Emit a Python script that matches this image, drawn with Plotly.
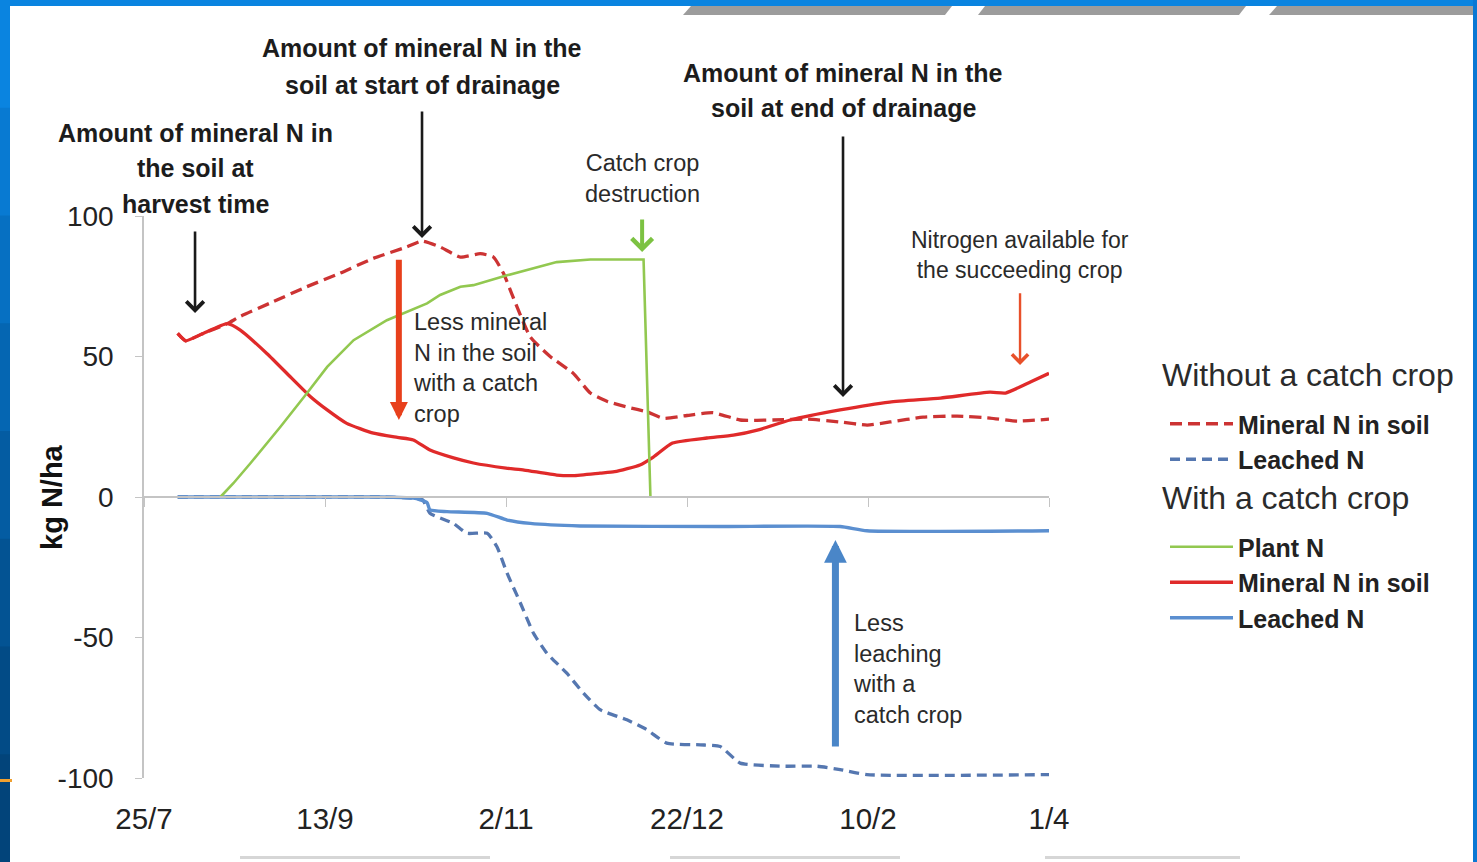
import plotly.graph_objects as go

# ---------------- data (x = days since 25 July) ----------------
TICK_DAYS = [0, 50, 100, 150, 200, 250]
TICK_LABELS = ["25/7", "13/9", "2/11", "22/12", "10/2", "1/4"]
Y_TICKS = [-100, -50, 0, 50, 100]
Y_TICK_LABELS = ["-100", "-50", "0", "50", "100"]

# Without a catch crop : mineral N in soil
noc_min_days = [9.3, 11.5, 16, 23, 26.5, 35.7, 44.9, 54.1, 63.3, 72.6, 76.8, 81.8, 87.4, 92.9,
                96.5, 99.3, 102, 106.7, 112.2, 118.6, 123.3, 128, 133.5, 139, 143.4, 150,
                157.2, 164.7, 173.8, 183.2, 192.3, 199.8, 206.1, 215.2, 224.6, 233.7, 241.2, 250]
noc_min_vals = [58.2, 55.6, 58, 61.7, 64.2, 69.5, 74.8, 79.6, 84.9, 89, 91.1, 89, 85.4, 86.6,
                85.4, 79.6, 71, 57, 50, 44, 37, 34, 32, 30.3, 28, 29,
                30, 27.4, 27.4, 27.7, 26.7, 25.6, 26.7, 28.4, 28.8, 28.1, 27, 27.7]

# Without a catch crop : leached N
noc_lea_days = [9.3, 65.3, 74.4, 77, 79, 85.5, 89.2, 94.8, 97.5, 100.3, 104, 107.6, 111.3,
                116.8, 121.4, 126, 133.4, 138.9, 144.4, 153.7, 159.2, 164.7, 176.6, 185.9,
                192.3, 199.7, 250]
noc_lea_vals = [0, 0, -0.4, -1, -5.8, -9.4, -12.9, -12.9, -17.7, -27.1, -37.8, -48.5, -55.6,
                -62.7, -69.8, -75.7, -79.3, -82.8, -87.6, -88.2, -88.8, -94.7, -95.8, -95.8,
                -97, -98.8, -98.8]

# With a catch crop : plant N
cc_plant_days = [21.1, 24.7, 29.4, 37.7, 45, 50.6, 57.9, 67.1, 78.2, 81.8, 87.4, 91, 100.3,
                 114, 123.3, 138, 139.9]
cc_plant_vals = [0, 4.9, 12, 25, 36.9, 46.3, 55.8, 62.9, 68.9, 71.9, 74.8, 75.4, 78.9,
                 83.6, 84.5, 84.5, 0]

# With a catch crop : mineral N in soil
cc_min_days = [9.3, 11.5, 16, 23, 26.6, 34, 40.4, 46, 50.6, 56, 63.4, 70, 74.4, 79, 85.5, 91,
               100, 105, 114, 118.6, 126, 130, 137, 140.7, 146, 155.5, 162.8, 170, 178.5,
               192.3, 206, 220, 233.7, 238, 245, 250]
cc_min_vals = [58.2, 55.6, 58, 61.7, 59.4, 51, 42.8, 35.7, 31, 26.2, 22.7, 21.2, 20.3, 16.7,
               13.9, 12.1, 10.3, 9.6, 7.8, 7.6, 8.5, 9, 11.4, 14.2, 19.2, 21, 22, 24, 27.4,
               31, 33.8, 35.2, 37.3, 37, 41, 44]

# With a catch crop : leached N
cc_lea_days = [9.3, 65.3, 74.4, 76.3, 78.2, 79, 83.7, 94.8, 100.3, 106.7, 120.5, 159.2, 192.3,
               199.7, 250]
cc_lea_vals = [0, 0, -0.4, -1, -2, -4.6, -5.2, -5.8, -8.2, -9.4, -10.3, -10.5, -10.5, -12, -12]

# ---------------- styling ----------------
FONT = "Liberation Sans, Arial, sans-serif"
RED = "#e02a2a"
RED_D = "#cc3333"
BLUE = "#5b8fd0"
BLUE_D = "#5577b0"
GREEN = "#92c850"
AXIS_GRAY = "#c4c4c4"

W, H = 1477, 862
ML, MR, MT, MB = 144, 428, 216, 84
PW, PH = W - ML - MR, H - MT - MB
XR = [0, 250]
YR = [-100, 100]


def px(x):  # page pixel -> paper x (layout placement only)
    return (x - ML) / PW


def py(y):  # page pixel -> paper y (layout placement only)
    return (H - MB - y) / PH


fig = go.Figure()

fig.add_trace(go.Scatter(x=noc_min_days, y=noc_min_vals, mode="lines", name="Mineral N in soil",
                         line=dict(color=RED_D, width=3.3, dash="12px,6px", shape="spline", smoothing=0.5),
                         legend="legend"))
fig.add_trace(go.Scatter(x=noc_lea_days, y=noc_lea_vals, mode="lines", name="Leached N",
                         line=dict(color=BLUE_D, width=3.3, dash="10px,6px", shape="spline", smoothing=0.5),
                         legend="legend"))
fig.add_trace(go.Scatter(x=cc_plant_days, y=cc_plant_vals, mode="lines", name="Plant N",
                         xaxis="x2",
                         line=dict(color=GREEN, width=2.6),
                         legend="legend2"))
fig.add_trace(go.Scatter(x=cc_min_days, y=cc_min_vals, mode="lines", name="Mineral N in soil",
                         line=dict(color=RED, width=3.3, shape="spline", smoothing=0.5),
                         legend="legend2"))
fig.add_trace(go.Scatter(x=cc_lea_days, y=cc_lea_vals, mode="lines", name="Leached N",
                         line=dict(color=BLUE, width=3.4, shape="spline", smoothing=0.5),
                         legend="legend2"))

# ---------------- annotations ----------------
ann = []
TXT = "#1c1c1c"


def text(x, y, t, size, bold, align="center", xanchor="center"):
    ann.append(dict(x=x, y=y, xref="x", yref="paper", text=t, showarrow=False,
                    xanchor=xanchor, yanchor="middle", align=align,
                    font=dict(family=FONT, size=size, color=TXT if bold else "#2a2a2a",
                              weight="bold" if bold else "normal")))


def arrow(x, y, ax, ay, color, width, head, size=1.0):
    ann.append(dict(x=x, y=y, ax=ax, ay=ay, xref="x", yref="y", axref="x", ayref="y",
                    text="", showarrow=True, arrowcolor=color, arrowwidth=width,
                    arrowhead=head, arrowsize=size, standoff=0, startstandoff=0))


# bold callouts (one annotation per line for the original line spacing)
for t, yy in [("Amount of mineral N in", 133), ("the soil at", 168), ("harvest time", 204)]:
    text(14.1, py(yy), t, 25, True)
for t, yy in [("Amount of mineral N in the", 48), ("soil at start of drainage", 85)]:
    text(76.8, py(yy), t, 25, True)
for t, yy in [("Amount of mineral N in the", 73), ("soil at end of drainage", 108)]:
    text(193.1, py(yy), t, 25, True)

text(137.6, py(178), "Catch crop<br>destruction", 23.5, False)
text(242, py(255), "Nitrogen available for<br>the succeeding crop", 23, False)
text(73.8, py(367.5), "Less mineral<br>N in the soil<br>with a catch<br>crop", 23.5, False, "left", "left")
text(195.3, py(669), "Less<br>leaching<br>with a<br>catch crop", 23.5, False, "left", "left")

arrow(14.1, 65.5, 14.1, 95, "#1a1a1a", 2.6, 4, 1.3)
arrow(76.8, 92.2, 76.8, 137.7, "#1a1a1a", 2.6, 4, 1.3)
arrow(193.1, 35.6, 193.1, 128.8, "#1a1a1a", 2.6, 4, 1.3)
arrow(137.6, 87.2, 137.6, 99.3, "#7cc242", 4, 4, 1.0)
arrow(242, 47, 242, 73, "#e8502a", 2.4, 4, 1.3)
arrow(70.4, 27.4, 70.4, 85, "#e8401c", 6, 2, 0.6)
arrow(191, -15.3, 191, -89.3, "#4a86c8", 7, 2, 0.65)

# y-axis title and legend group headers
ann.append(dict(x=px(52), y=0.5, xref="paper", yref="paper", text="kg N/ha", showarrow=False,
                textangle=-90, xanchor="center", yanchor="middle",
                font=dict(family=FONT, size=29, color="#111", weight="bold")))
ann.append(dict(x=px(1160), y=py(375), xref="paper", yref="paper", text="Without a catch crop",
                showarrow=False, xanchor="left", yanchor="middle",
                font=dict(family=FONT, size=32, color="#2b2b2b")))
ann.append(dict(x=px(1160), y=py(498), xref="paper", yref="paper", text="With a catch crop",
                showarrow=False, xanchor="left", yanchor="middle",
                font=dict(family=FONT, size=32, color="#2b2b2b")))

# ---------------- decoration (page frame) ----------------
shapes = []


def rect(x0, y0, x1, y1, color):
    shapes.append(dict(type="rect", xref="paper", yref="paper", x0=px(x0), x1=px(x1),
                       y0=py(y1), y1=py(y0), fillcolor=color, line=dict(width=0), layer="below"))


rect(0, 0, W, 6, "#0a84e0")
steps = ["#0a84e0", "#087ad2", "#0670c2", "#0566b2", "#045ca2", "#035393", "#024b86", "#02447a"]
seg = H / len(steps)
for i, c in enumerate(steps):
    rect(0, i * seg, 10, (i + 1) * seg + 1, c)
rect(1473, 0, W, H, "#0a78d4")
rect(0, 779, 12, 782, "#f0a030")
for (bl, tl, tr, br) in [(683, 691, 952, 945), (978, 985, 1246, 1239), (1269, 1277, 1473, 1473)]:
    path = "M {} {} L {} {} L {} {} L {} {} Z".format(px(bl), py(15), px(tl), py(6),
                                                     px(tr), py(6), px(br), py(15))
    shapes.append(dict(type="path", xref="paper", yref="paper", path=path,
                       fillcolor="#9c9c9c", line=dict(width=0), layer="below"))
for (a, b) in [(240, 490), (670, 900), (1045, 1240)]:
    rect(a, 856, b, 859, "#d6d6d6")

y_zero_pos = (0 - YR[0]) / (YR[1] - YR[0])

legend_common = dict(xanchor="left", yanchor="top", traceorder="normal", itemwidth=63,
                     font=dict(family=FONT, size=25, color="#222", weight="bold"),
                     bgcolor="rgba(0,0,0,0)", itemclick=False)

fig.update_layout(
    width=W, height=H,
    margin=dict(l=ML, r=MR, t=MT, b=MB, autoexpand=False),
    paper_bgcolor="white", plot_bgcolor="white",
    showlegend=True,
    legend=dict(x=px(1165), y=py(401), **legend_common),
    legend2=dict(x=px(1165), y=py(524), **legend_common),
    xaxis=dict(range=XR, tickvals=TICK_DAYS, ticktext=TICK_LABELS, showline=False, ticks="",
               showgrid=False, zeroline=False, ticklabelstandoff=20, automargin=False,
               tickfont=dict(family=FONT, size=29.5, color="#222")),
    xaxis2=dict(range=XR, overlaying="x", anchor="free", position=y_zero_pos, side="bottom",
                showline=True, linecolor=AXIS_GRAY, linewidth=1.5, ticks="outside", ticklen=9,
                tickcolor=AXIS_GRAY, tickwidth=1.2, tickvals=TICK_DAYS, showticklabels=False,
                showgrid=False, zeroline=False, automargin=False),
    yaxis=dict(range=YR, tickvals=Y_TICKS, ticktext=Y_TICK_LABELS, showline=True,
               linecolor=AXIS_GRAY, linewidth=1.5,
               ticks="outside", ticklen=7, tickcolor=AXIS_GRAY, tickwidth=1.2,
               showgrid=False, zeroline=False, ticklabelstandoff=16, automargin=False,
               tickfont=dict(family=FONT, size=28, color="#222")),
    annotations=ann,
    shapes=shapes,
)

fig.write_html("out.html", config={"displayModeBar": False},
               post_script="document.body.style.margin='0px';document.body.style.overflow='hidden';")
